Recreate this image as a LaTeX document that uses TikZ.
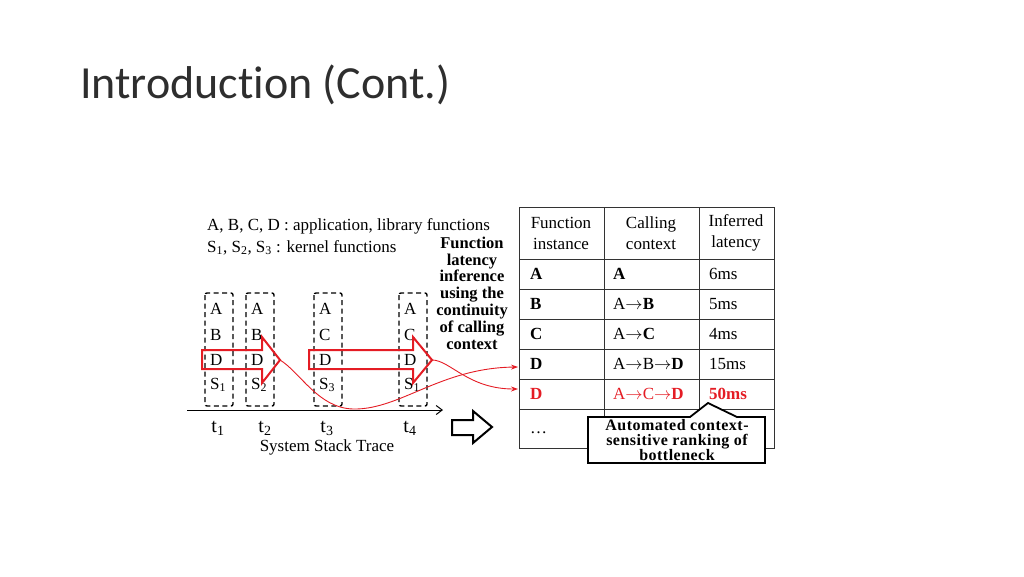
\documentclass[tikz,border=0pt]{standalone}
\usepackage{fontspec}
\setmainfont{Liberation Serif}
\newfontfamily\titlefont[Ligatures=NoCommon]{Carlito}
\usepackage{tikz}
\usetikzlibrary{arrows.meta}
\definecolor{hotred}{RGB}{228,28,36}
\newcommand\callto{$\rightarrow$}
\tikzset{
    stackbox/.style={line width=1.4pt, dash pattern=on 5pt off 3.5pt, rounded corners=2pt},
    frame/.style={line width=1pt, black!80},
    blockarrow/.style={line width=2pt, line join=miter},
    flow/.style={hotred, line width=0.9pt, -{Stealth[length=7pt,width=5pt]}},
    txt/.style={inner sep=0pt, font=\fontsize{17}{19}\selectfont},
}

\begin{document}
\begin{tikzpicture}[x=1pt, y=-1pt]
\useasboundingbox (0,0) rectangle (1024,576);
\node[inner sep=0pt, anchor=base west, black!82, font=\titlefont\fontsize{46}{50}\selectfont] (title) at (80,98) {Introduction (Cont.)};

% legend
\node[txt, anchor=base west] (legA) at (207,230) {A, B, C, D : application,\ library\ functions};
\node[txt, anchor=base west] (legS) at (207,252) {S\textsubscript{1}, S\textsubscript{2}, S\textsubscript{3} : kernel functions};
\node[txt, align=center, font=\bfseries\fontsize{16.5}{16.8}\selectfont] (infer) at (472,293) {Function\\latency\\inference\\using the\\continuity\\of calling\\context};

% stack samples
\foreach \x/\b/\s/\tx [count=\i] in {205/B/1/218, 246/B/2/265, 314/C/3/327, 399/C/1/410}{
    \draw[stackbox] (\x,293) rectangle (\x+28,406);
    \node[txt, anchor=west] (a\i) at (\x+5,309) {A};
    \node[txt, anchor=west] (b\i) at (\x+5,335) {\b};
    \node[txt, anchor=west] (d\i) at (\x+5,360) {D};
    \node[txt, anchor=west] (s\i) at (\x+5,385) {S\textsubscript{\s}};
    \node[txt, font=\fontsize{20}{22}\selectfont] (t\i) at (\tx,428) {t\textsubscript{\i}};
}
\coordinate (origin) at (187,410);
\coordinate (tend) at (443,410);
\draw[line width=1pt, -{Straight Barb[length=6pt,width=9pt]}] (origin) -- (tend);
\node[txt] (trace) at (327,447) {System Stack Trace};

% red block arrows
\draw[blockarrow, hotred] (202,350) -- (262,350) -- (262,337) -- (280,360) -- (262,383) -- (262,369) -- (202,369) -- cycle;
\draw[blockarrow, hotred] (309,350) -- (413,350) -- (413,337) -- (432,360) -- (413,383) -- (413,369) -- (309,369) -- cycle;
\coordinate (tip1) at (280,360);
\coordinate (tip2) at (432,360);

% hollow arrow
\draw[blockarrow] (452,420) -- (473,420) -- (473,411) -- (492,427) -- (473,443) -- (473,435) -- (452,435) -- cycle;

% table
\draw[frame] (519,207) rectangle (774,448);
\foreach \y in {259,289,319,349,379,409} \draw[frame] (519,\y) -- (774,\y);
\foreach \x in {604,699} \draw[frame] (\x,207) -- (\x,448);
\node[txt, align=center, font=\fontsize{17}{21}\selectfont] (h1) at (561,233) {Function\\instance};
\node[txt, align=center, font=\fontsize{17}{21}\selectfont] (h2) at (651,233) {Calling\\context};
\node[txt, align=center, font=\fontsize{17}{21}\selectfont] (h3) at (736,233) {Inferred\\latency};
\foreach \y/\f/\c/\l [count=\r] in {274/A/{\textbf{A}}/6ms, 304/B/{A\callto\textbf{B}}/5ms, 334/C/{A\callto\textbf{C}}/4ms, 364/D/{A\callto B\callto\textbf{D}}/15ms}{
    \node[txt, anchor=west] (f\r) at (530,\y) {\textbf{\f}};
    \node[txt, anchor=west] (c\r) at (613,\y) {\c};
    \node[txt, anchor=west] (l\r) at (709,\y) {\l};
}
\node[txt, anchor=west, hotred] (f5) at (530,394) {\textbf{D}};
\node[txt, anchor=west, hotred] (c5) at (613,394) {A\callto C\callto\textbf{D}};
\node[txt, anchor=west, hotred] (l5) at (709,394) {\textbf{50ms}};
\node[txt, anchor=west] (f6) at (530,433) {\dots};

% flows into the table
\coordinate (in1) at (518,367);
\coordinate (in2) at (518,389);
\draw[flow] (tip1) .. controls (300,372) and (318,408) .. (353,409) .. controls (400,410) and (440,368) .. (in1);
\draw[flow] (tip2) .. controls (450,360) and (468,389) .. (in2);

% callout
\draw[line width=1.8pt, fill=white, line join=miter] (588,417) -- (690,417) -- (708,403) -- (737,417) -- (765,417) -- (765,463) -- (588,463) -- cycle;
\node[txt, align=center, font=\bfseries\fontsize{16}{15}\selectfont\addfontfeatures{LetterSpace=3}] (rank) at (677,440) {Automated context-\\sensitive ranking of\\bottleneck};
\end{tikzpicture}
\end{document}
